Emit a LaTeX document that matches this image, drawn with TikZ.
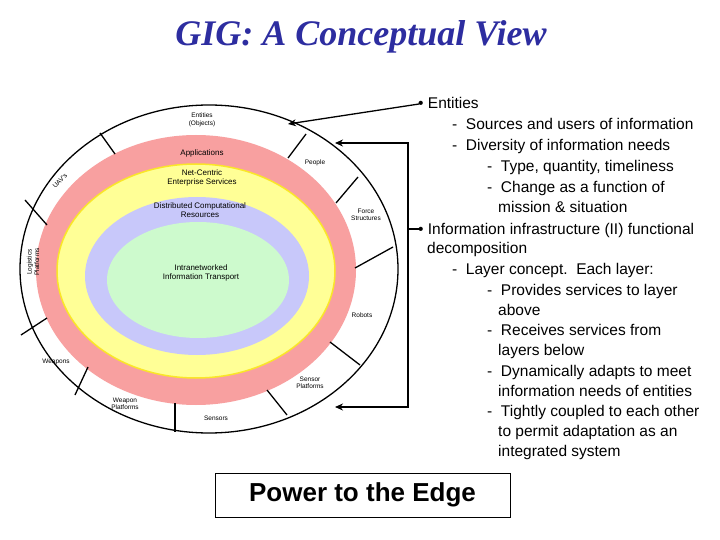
\documentclass[tikz,border=0pt]{standalone}
\usepackage{fontspec}
\setmainfont{Liberation Sans}
\newfontfamily\titlefont{Liberation Serif}
\usetikzlibrary{arrows.meta}
\definecolor{titleblue}{RGB}{45,45,160}
\definecolor{ringred}{RGB}{248,160,160}
\definecolor{ringyel}{RGB}{255,255,150}
\definecolor{ringyelb}{RGB}{250,230,40}
\definecolor{ringblue}{RGB}{200,200,250}
\definecolor{ringgreen}{RGB}{205,250,205}
\begin{document}
\begin{tikzpicture}[x=1pt,y=-1pt,
  lbl/.style={font=\fontsize{6.5}{7.5}\selectfont,align=center,inner sep=0},
  layer/.style={font=\fontsize{8}{9.5}\selectfont,align=center,inner sep=0},
  txt/.style={font=\fontsize{15.5}{17}\selectfont,anchor=base west,inner sep=0},
  sep/.style={line width=1.3pt},
  arr/.style={line width=1.3pt,-{Stealth[length=8pt,width=7pt]}}]
\useasboundingbox (0,0) rectangle (720,540);
\node[font=\titlefont\bfseries\itshape\fontsize{36}{40}\selectfont,text=titleblue] (title) at (361,37) {GIG: A Conceptual View};
% rings
\draw[line width=1.3pt,fill=white] (209,269) ellipse [x radius=189,y radius=164];
\fill[ringred] (196,270) ellipse [x radius=160,y radius=135];
\draw[ringyelb,line width=1.5pt,fill=ringyel] (196,271) ellipse [x radius=139,y radius=107];
\fill[ringblue] (197,276) ellipse [x radius=112,y radius=79];
\fill[ringgreen] (198,280) ellipse [x radius=91,y radius=58];
% separators
\draw[sep] (100,133)--(115,154);
\draw[sep] (306,134)--(288,158);
\draw[sep] (358,177)--(336,203);
\draw[sep] (393,247)--(355,268);
\draw[sep] (330,342)--(360,365);
\draw[sep] (267,390)--(287,415);
\draw[sep] (175,403)--(175,432);
\draw[sep] (88,367)--(75,395);
\draw[sep] (47,318)--(21,335);
\draw[sep] (47,225)--(25,200);
% labels
\node[lbl] (ent) at (202,120) {Entities\\(Objects)};
\node[layer] (app) at (202,153) {Applications};
\node[layer] (ncs) at (202,178) {Net-Centric\\Enterprise Services};
\node[layer] (dcr) at (200,210) {Distributed Computational\\Resources};
\node[layer] (iit) at (201,273) {Intranetworked\\Information Transport};
\node[lbl] (peo) at (315,163) {People};
\node[lbl] (fst) at (366,215) {Force\\Structures};
\node[lbl] (rob) at (362,315) {Robots};
\node[lbl] (spl) at (310,383) {Sensor\\Platforms};
\node[lbl] (sen) at (216,418) {Sensors};
\node[lbl] (wpl) at (125,404) {Weapon\\Platforms};
\node[lbl] (wea) at (56,362) {Weapons};
\node[lbl,rotate=90] (log) at (33,262) {Logistics\\Platforms};
\node[lbl,rotate=45] (uav) at (60,181) {UAV's};
% text
\node[txt] (b1) at (418,109) {\textbullet\ Entities};
\node[txt] (t1) at (452,130) {-\ \ Sources and users of information};
\node[txt] (t2) at (452,151) {-\ \ Diversity of information needs};
\node[txt] (t3) at (487,172) {-\ \ Type, quantity, timeliness};
\node[txt] (t4) at (487,193) {-\ \ Change as a function of};
\node[txt] (t5) at (498,213) {mission \& situation};
\node[txt] (b2) at (418,234) {\textbullet\ Information infrastructure (II) functional};
\node[txt] (t6) at (427,253) {decomposition};
\node[txt] (t7) at (452,274) {-\ \ Layer concept.\ \ Each layer:};
\node[txt] (t8) at (487,295) {-\ \ Provides services to layer};
\node[txt] (t9) at (498,315) {above};
\node[txt] (t10) at (487,335) {-\ \ Receives services from};
\node[txt] (t11) at (498,355) {layers below};
\node[txt] (t12) at (487,376) {-\ \ Dynamically adapts to meet};
\node[txt] (t13) at (498,396) {information needs of entities};
\node[txt] (t14) at (487,416) {-\ \ Tightly coupled to each other};
\node[txt] (t15) at (498,436) {to permit adaptation as an};
\node[txt] (t16) at (498,456) {integrated system};
% arrows
\coordinate (a1) at (288,124);
\coordinate (u) at (335,143);
\coordinate (d) at (335,407);
\coordinate (k) at (408,229);
\draw[arr] (419,104) -- (a1);
\draw[line width=1.3pt] (419,229) -- (k);
\draw[arr] (k) |- (u);
\draw[arr] (k) |- (d);
\node[draw,line width=1pt,minimum width=295pt,minimum height=44pt,font=\bfseries\fontsize{26}{28}\selectfont] (pte) at (362.5,495) {Power to the Edge};
\end{tikzpicture}
\end{document}
